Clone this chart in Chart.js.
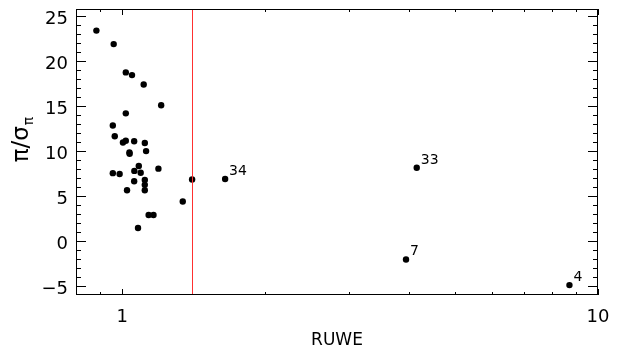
<!DOCTYPE html>
<html>
<head>
<meta charset="utf-8">
<script src="https://cdn.jsdelivr.net/npm/chart.js@4/dist/chart.umd.min.js"></script>
<style>
  html, body { margin: 0; padding: 0; background: #fff; }
  #wrap { width: 620px; height: 351px; }
</style>
</head>
<body>
<div id="wrap"><canvas id="c" width="620" height="351"></canvas></div>
<script>
// RUWE vs parallax significance
const ruwe = [0.883, 0.960, 1.018, 1.049, 1.11, 1.208, 1.018, 0.956, 0.965, 1.004,
              1.018, 1.06, 1.116, 1.036, 1.037, 1.123, 0.956, 0.988, 1.084, 1.061,
              1.094, 1.192, 1.06, 1.116, 1.116, 1.116, 1.024, 1.403, 1.646, 1.341,
              1.137, 1.164, 1.08, 4.16, 3.95, 8.71];
const plxSnr = [23.4, 21.9, 18.75, 18.45, 17.4, 15.1, 14.2, 12.85, 11.65, 10.95,
                11.15, 11.1, 10.9, 9.85, 9.7, 10.0, 7.55, 7.45, 8.35, 7.8,
                7.6, 8.05, 6.65, 6.8, 6.25, 5.65, 5.65, 6.85, 6.9, 4.4,
                2.9, 2.9, 1.45, 8.15, -2.05, -4.9];
// star ids written next to some points ('' = no label)
const pointIds = ['', '', '', '', '', '', '', '', '', '',
                  '', '', '', '', '', '', '', '', '', '',
                  '', '', '', '', '', '', '', '', '34', '',
                  '', '', '', '33', '7', '4'];

const yMajor = [-5, 0, 5, 10, 15, 20, 25];
const xMajor = [1, 10];
const xMinor = [0.9, 2, 3, 4, 5, 6, 7, 8, 9];
const ruweCut = 1.4;

const FONT = '"DejaVu Sans", sans-serif';

const axesPlugin = {
    id: 'idlAxes',
    afterDatasetsDraw(chart) {
        const { ctx, chartArea: a, scales: { x, y } } = chart;
        ctx.save();

        // red RUWE cut
        const xc = Math.round(x.getPixelForValue(ruweCut)) + 0.5;
        ctx.strokeStyle = '#ff3030';
        ctx.lineWidth = 1;
        ctx.beginPath();
        ctx.moveTo(xc, a.top);
        ctx.lineTo(xc, a.bottom);
        ctx.stroke();

        // point ids
        ctx.fillStyle = '#000';
        ctx.font = '14px ' + FONT;
        ctx.textAlign = 'left';
        ctx.textBaseline = 'alphabetic';
        pointIds.forEach((id, i) => {
            if (!id) return;
            const px = x.getPixelForValue(ruwe[i]);
            const py = y.getPixelForValue(plxSnr[i]);
            ctx.fillText(id, px + 4, py - 4);
        });

        // frame
        ctx.strokeStyle = '#000';
        ctx.lineWidth = 1;
        ctx.strokeRect(a.left + 0.5, a.top + 0.5, a.right - a.left - 1, a.bottom - a.top - 1);

        const tick = (x1, y1, x2, y2) => {
            ctx.beginPath();
            ctx.moveTo(x1, y1);
            ctx.lineTo(x2, y2);
            ctx.stroke();
        };

        // y ticks, inward on both sides
        for (let v = -5; v <= 25; v++) {
            const py = Math.round(y.getPixelForValue(v)) + 0.5;
            const len = yMajor.includes(v) ? 10 : 5;
            tick(a.left, py, a.left + len, py);
            tick(a.right, py, a.right - len, py);
        }
        // x ticks
        xMajor.concat(xMinor).forEach(v => {
            const px = Math.round(x.getPixelForValue(v)) + 0.5;
            const len = xMajor.includes(v) ? 6 : 3;
            tick(px, a.bottom, px, a.bottom - len);
            tick(px, a.top, px, a.top + len);
        });

        // tick labels
        ctx.font = '18px ' + FONT;
        ctx.textAlign = 'right';
        ctx.textBaseline = 'middle';
        yMajor.forEach(v => {
            const lbl = v < 0 ? '\u2212' + Math.abs(v) : String(v);
            ctx.fillText(lbl, a.left - 8, y.getPixelForValue(v) + 3);
        });
        ctx.textAlign = 'center';
        xMajor.forEach(v => {
            ctx.fillText(String(v), x.getPixelForValue(v), a.bottom + 22);
        });

        // axis titles
        ctx.font = '17px ' + FONT;
        ctx.fillText('RUWE', (a.left + a.right) / 2, a.bottom + 46);

        ctx.translate(22, 140);
        ctx.rotate(-Math.PI / 2);
        ctx.textAlign = 'left';
        ctx.textBaseline = 'middle';
        ctx.font = '23px ' + FONT;
        const main = '\u03c0/\u03c3';
        const w = ctx.measureText(main).width;
        ctx.font = '14px ' + FONT;
        const ws = ctx.measureText('\u03c0').width;
        const x0 = -(w + ws) / 2;
        ctx.font = '23px ' + FONT;
        ctx.fillText(main, x0, 0);
        ctx.font = '14px ' + FONT;
        ctx.fillText('\u03c0', x0 + w + 1, 7);
        ctx.restore();
    }
};

new Chart(document.getElementById('c'), {
    type: 'scatter',
    data: {
        datasets: [{
            data: ruwe.map((r, i) => ({ x: r, y: plxSnr[i] })),
            backgroundColor: '#000',
            borderColor: '#000',
            pointRadius: 3.2,
            pointBorderWidth: 0
        }]
    },
    options: {
        responsive: false,
        animation: false,
        devicePixelRatio: 1,
        layout: { padding: { left: 76, right: 22, top: 9, bottom: 56 } },
        plugins: { legend: { display: false }, tooltip: { enabled: false } },
        scales: {
            x: { type: 'logarithmic', min: 0.8, max: 10, display: false },
            y: { type: 'linear', min: -6, max: 25.8, display: false }
        }
    },
    plugins: [axesPlugin]
});
</script>
</body>
</html>
